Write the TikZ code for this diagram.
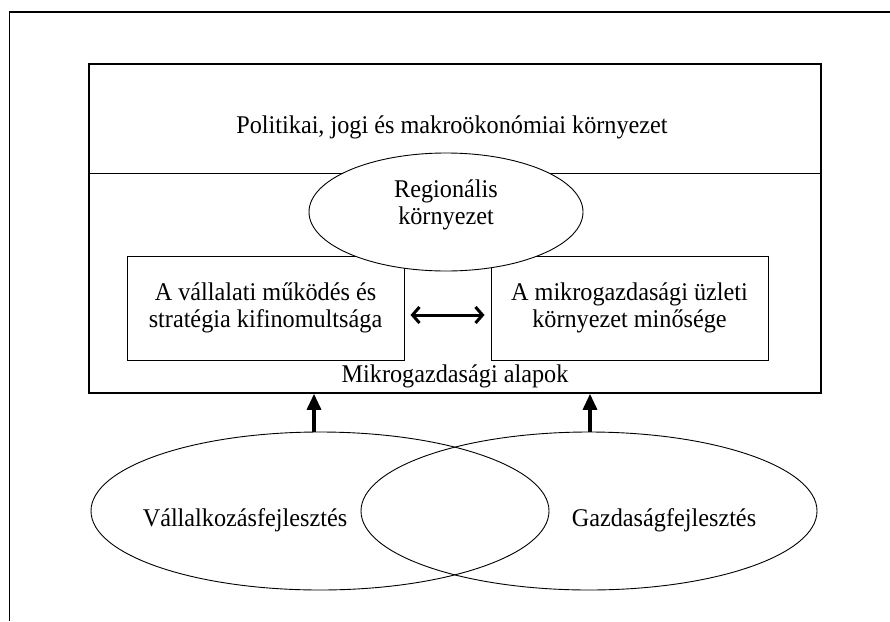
\documentclass[tikz,border=0pt]{standalone}
\usepackage{fontspec}
\setmainfont[FakeStretch=0.95]{Liberation Serif}
\usetikzlibrary{shapes.geometric,arrows.meta}
\begin{document}
\begin{tikzpicture}[x=1pt,y=-1pt,
  txt/.style={font=\fontsize{25.5}{26.5}\selectfont,align=center,inner sep=0pt},
  framebox/.style={draw,line width=1.6pt,rectangle,inner sep=0pt},
  innerbox/.style={draw,line width=1pt,rectangle,inner sep=0pt,minimum width=277pt,minimum height=104pt,font=\fontsize{25.5}{26.5}\selectfont,align=center},
  oval/.style={draw,line width=0.9pt,ellipse,inner sep=0pt},
  uparrow/.style={line width=3.2pt,-{Triangle[length=16pt,width=14pt]}},
  dblarrow/.style={line width=3pt,{Straight Barb[length=7pt,width=16pt]}-{Straight Barb[length=7pt,width=16pt]}}]
\useasboundingbox (0,0) rectangle (890,621);
% outer frame (top and left)
\coordinate (fbl) at (9.5,621);
\coordinate (ftl) at (9.5,12);
\coordinate (ftr) at (890,12);
\draw[line width=1.4pt] (fbl) -- (ftl) -- (ftr);
% main box
\node[framebox,minimum width=732pt,minimum height=329pt] (main) at (455,228.5) {};
\coordinate (div) at (455,173);
\draw[line width=1pt] (main.west |- div) -- (main.east |- div);
\node[txt] (pol) at (452,127) {Politikai, jogi és makroökonómiai környezet};
% inner boxes
\node[innerbox] (lbox) at (265.5,308) {A vállalati működés és\\stratégia kifinomultsága};
\node[innerbox] (rbox) at (629.5,308) {A mikrogazdasági üzleti\\környezet minősége};
% regional ellipse
\node[oval,fill=white,minimum width=274pt,minimum height=118pt] (reg) at (446,212) {};
\node[txt] (regt) at (446,205) {Regionális\\környezet};
\draw[dblarrow] ([shift={(6,7)}]lbox.east) -- ([shift={(-6,7)}]rbox.west);
\node[txt] (mik) at (455,376) {Mikrogazdasági alapok};
% bottom ellipses
\node[oval,minimum width=458pt,minimum height=158pt] (ell1) at (320,511) {};
\node[oval,minimum width=456pt,minimum height=158pt] (ell2) at (589,511) {};
\node[txt] (vt) at (245,520) {Vállalkozásfejlesztés};
\node[txt] (gt) at (664,520) {Gazdaságfejlesztés};
% up arrows
\coordinate (upL) at (314,0);
\coordinate (upR) at (590,0);
\draw[uparrow] (ell1.north -| upL) -- (main.south -| upL);
\draw[uparrow] (ell2.north -| upR) -- (main.south -| upR);
\end{tikzpicture}
\end{document}
